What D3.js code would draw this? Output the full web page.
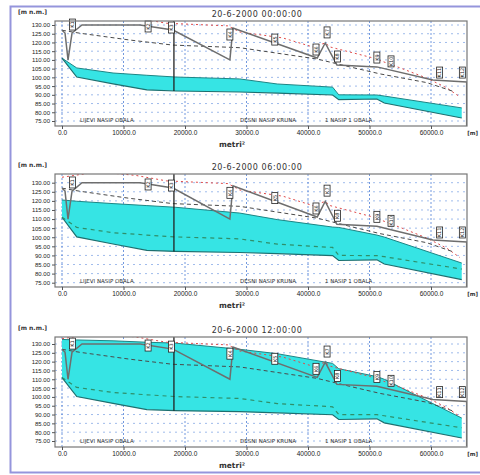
<!DOCTYPE html>
<html>
<head>
<meta charset="utf-8">
<script src="https://cdn.jsdelivr.net/npm/d3@7"></script>
<style>
  body { margin: 0; background: #fff; }
  svg { display: block; font-family: "DejaVu Sans", sans-serif; }
  .yaxis text, .xaxis text { fill: #222; }
  .yaxis line, .xaxis line { stroke: #555; }
</style>
</head>
<body>
<script>
const w = 480;
const h = 475;

// chainage stations along the river [m]
const chainage = [0, 2400, 8300, 13800, 18400, 28900, 35000, 44000, 45000, 51200, 52400, 65000];
const bedLevel = [111.0, 100.2, 96.3, 92.8, 92.2, 91.6, 91.0, 89.9, 87.2, 87.6, 85.3, 76.7];
const level00 = [111.0, 105.4, 102.5, 101.2, 100.2, 99.1, 96.2, 94.4, 90.0, 89.9, 89.3, 82.5];
const level06 = [120.5, 119.8, 118.5, 117.4, 116.5, 113.3, 109.7, 105.6, 105.4, 101.2, 100.1, 85.8];
const level12 = [132.6, 132.3, 131.8, 131.0, 130.5, 127.0, 124.5, 119.0, 116.0, 111.5, 110.0, 88.0];

// dike crown (solid grey)
const crownCh = [0, 490, 980, 1630, 3250, 12700, 18050, 27300, 27800, 41500, 42800, 44700, 51200, 60300, 65800, 65800];
const crownLv = [127.0, 125.4, 110.0, 125.4, 130.0, 130.0, 127.1, 110.0, 128.3, 111.1, 119.7, 107.1, 106.0, 98.5, 97.4, 72.0];

// right bank (red dashed)
const redCh = [0, 6000, 12000, 17000, 27000, 28900, 35900, 40800, 42800, 43600, 50600, 55000, 59300, 62600, 64700];
const redLv = [133.0, 136.0, 134.0, 131.0, 129.5, 126.0, 122.6, 117.4, 119.7, 117.4, 111.1, 105.4, 99.6, 93.9, 88.8];

// left bank (dark dashed)
const dashCh = [0, 2900, 11000, 18000, 28900, 41500, 46800, 51700, 59300, 63600];
const dashLv = [127.0, 125.3, 121.4, 118.5, 117.0, 110.5, 106.0, 102.0, 97.0, 92.0];

// structure (vertical black line)
const weirCh = 18200;
const weirBed = 92.2;

// label boxes
const labelCh = [1700, 14000, 17800, 27300, 34600, 41300, 43100, 44800, 51200, 53500, 61400, 65100];
const labelLv = [127.1, 126.0, 125.4, 121.4, 118.5, 112.8, 122.6, 108.8, 108.2, 106.0, 99.6, 99.6];
const labelText = ["K1", "K2", "K3", "K4", "K5", "K6", "K7", "K8", "K9", "K10", "K11", "K12"];

const xTicks = [0, 10000, 20000, 30000, 40000, 50000, 60000];
const yTicks = [75, 80, 85, 90, 95, 100, 105, 110, 115, 120, 125, 130];
const titles = ["20-6-2000 00:00:00", "20-6-2000 06:00:00", "20-6-2000 12:00:00"];
const waterLevels = [level00, level06, level12];
const bottomTexts = ["LIJEVI NASIP  OBALA", "DESNI NASIP  KRUNA", "1 NASIP 1 OBALA"];

const panels = [
  { top: 21, bottom: 126, t130: 25, t75: 121 },
  { top: 174, bottom: 287, t130: 182.7, t75: 282.7 },
  { top: 337, bottom: 447, t130: 344, t75: 441 }
];

const left = 55, right = 467;

const svg = d3.select('body').append('svg').attr('width', w).attr('height', h);

// outer frame
svg.append('rect')
  .attr('x', 10.5).attr('y', 6.5).attr('width', 480).attr('height', 466)
  .attr('fill', 'none').attr('stroke', '#9595dc').attr('stroke-width', 2);

const xScale = d3.scaleLinear().domain([0, 60000]).range([62, 431]);

panels.forEach((p, i) => {
  const yScale = d3.scaleLinear().domain([75, 130]).range([p.t75, p.t130]);
  const g = svg.append('g');

  const clipId = 'clip' + i;
  svg.append('clipPath').attr('id', clipId)
    .append('rect').attr('x', left).attr('y', p.top).attr('width', right - left).attr('height', p.bottom - p.top);

  // gridlines
  g.append('g').selectAll('line').data(yTicks).enter().append('line')
    .attr('x1', left).attr('x2', right)
    .attr('y1', d => yScale(d)).attr('y2', d => yScale(d))
    .attr('stroke', '#86a9e6').attr('stroke-width', 0.8).attr('stroke-dasharray', '2,4');
  g.append('g').selectAll('line').data(xTicks).enter().append('line')
    .attr('x1', d => xScale(d)).attr('x2', d => xScale(d))
    .attr('y1', p.top).attr('y2', p.bottom)
    .attr('stroke', '#4f7fd6').attr('stroke-width', 0.8).attr('stroke-dasharray', '2,2');

  const plot = g.append('g').attr('clip-path', 'url(#' + clipId + ')');

  // water body
  const area = d3.area()
    .x((d, k) => xScale(chainage[k]))
    .y0((d, k) => yScale(bedLevel[k]))
    .y1(d => yScale(d));
  plot.append('path').datum(waterLevels[i])
    .attr('d', area).attr('fill', '#36e4e4').attr('stroke', 'none');

  const lineK = d3.line().x((d, k) => xScale(chainage[k])).y(d => yScale(d));
  plot.append('path').datum(waterLevels[i]).attr('d', lineK)
    .attr('fill', 'none').attr('stroke', '#1e8585').attr('stroke-width', 1);
  plot.append('path').datum(bedLevel).attr('d', lineK)
    .attr('fill', 'none').attr('stroke', '#1e6f6f').attr('stroke-width', 1.2);

  // earlier water level, dashed
  if (i >= 1) {
    plot.append('path').datum(level00).attr('d', lineK)
      .attr('fill', 'none').attr('stroke', '#2f8f6a').attr('stroke-width', 1.2).attr('stroke-dasharray', '4,4');
  }

  const pairLine = (xs) => d3.line().x((d, k) => xScale(xs[k])).y(d => yScale(d));

  plot.append('path').datum(redLv).attr('d', pairLine(redCh))
    .attr('fill', 'none').attr('stroke', '#e04a4a').attr('stroke-width', 1).attr('stroke-dasharray', '2,3');
  plot.append('path').datum(dashLv).attr('d', pairLine(dashCh))
    .attr('fill', 'none').attr('stroke', '#4a4a4a').attr('stroke-width', 1).attr('stroke-dasharray', '4,3');
  plot.append('path').datum(crownLv).attr('d', pairLine(crownCh))
    .attr('fill', 'none').attr('stroke', '#6e6e6e').attr('stroke-width', 1.5);

  // structure
  plot.append('line')
    .attr('x1', xScale(weirCh)).attr('x2', xScale(weirCh))
    .attr('y1', p.top).attr('y2', yScale(weirBed))
    .attr('stroke', '#222').attr('stroke-width', 1.3);

  // label boxes
  const boxes = g.append('g').selectAll('g').data(labelCh).enter().append('g')
    .attr('transform', (d, k) => 'translate(' + xScale(d) + ',' + yScale(labelLv[k]) + ')');
  boxes.append('rect')
    .attr('x', -3).attr('y', -11).attr('width', 6).attr('height', 11)
    .attr('fill', '#fff').attr('stroke', '#222').attr('stroke-width', 0.8);
  boxes.append('text')
    .attr('transform', 'rotate(-90)').attr('x', 5.5).attr('y', 1.8)
    .attr('text-anchor', 'middle').attr('font-size', 5).attr('fill', '#222')
    .text((d, k) => labelText[k]);

  // texts along bottom
  [[80, 0], [240, 1], [325, 2]].forEach(([x, k]) => {
    g.append('text').attr('x', x).attr('y', p.bottom - 4)
      .attr('font-size', 5.5).attr('fill', '#333').text(bottomTexts[k]);
  });

  // plot frame
  g.append('rect')
    .attr('x', left).attr('y', p.top).attr('width', right - left).attr('height', p.bottom - p.top)
    .attr('fill', 'none').attr('stroke', '#777').attr('stroke-width', 1.2);

  // axes
  const yAxis = d3.axisLeft(yScale).tickValues(yTicks).tickSize(3).tickPadding(2)
    .tickFormat(d3.format('.2f'));
  g.append('g').attr('class', 'yaxis')
    .attr('transform', 'translate(' + left + ',0)')
    .call(yAxis)
    .call(s => s.select('.domain').remove())
    .selectAll('text').attr('font-size', 6);

  const xAxis = d3.axisBottom(xScale).tickValues(xTicks).tickSize(3).tickPadding(1)
    .tickFormat(d => d.toFixed(1));
  g.append('g').attr('class', 'xaxis')
    .attr('transform', 'translate(0,' + p.bottom + ')')
    .call(xAxis)
    .call(s => s.select('.domain').remove())
    .selectAll('text').attr('font-size', 6.5);

  // titles and units
  g.append('text').attr('x', 257).attr('y', p.top - 4)
    .attr('text-anchor', 'middle').attr('font-size', 8).attr('letter-spacing', 0.6)
    .attr('fill', '#333').text(titles[i]);
  g.append('text').attr('x', 18).attr('y', p.top - 7)
    .attr('font-size', 6).attr('font-weight', 'bold').attr('fill', '#333').text('[m n.m.]');
  g.append('text').attr('x', 478).attr('y', p.bottom + 9)
    .attr('text-anchor', 'end')
    .attr('font-size', 5.5).attr('font-weight', 'bold').attr('fill', '#333').text('[m]');
  g.append('text').attr('x', 232).attr('y', p.bottom + 21)
    .attr('text-anchor', 'middle').attr('font-size', 7.5).attr('font-weight', 'bold')
    .attr('fill', '#333').text('metri²');
});
</script>
</body>
</html>
